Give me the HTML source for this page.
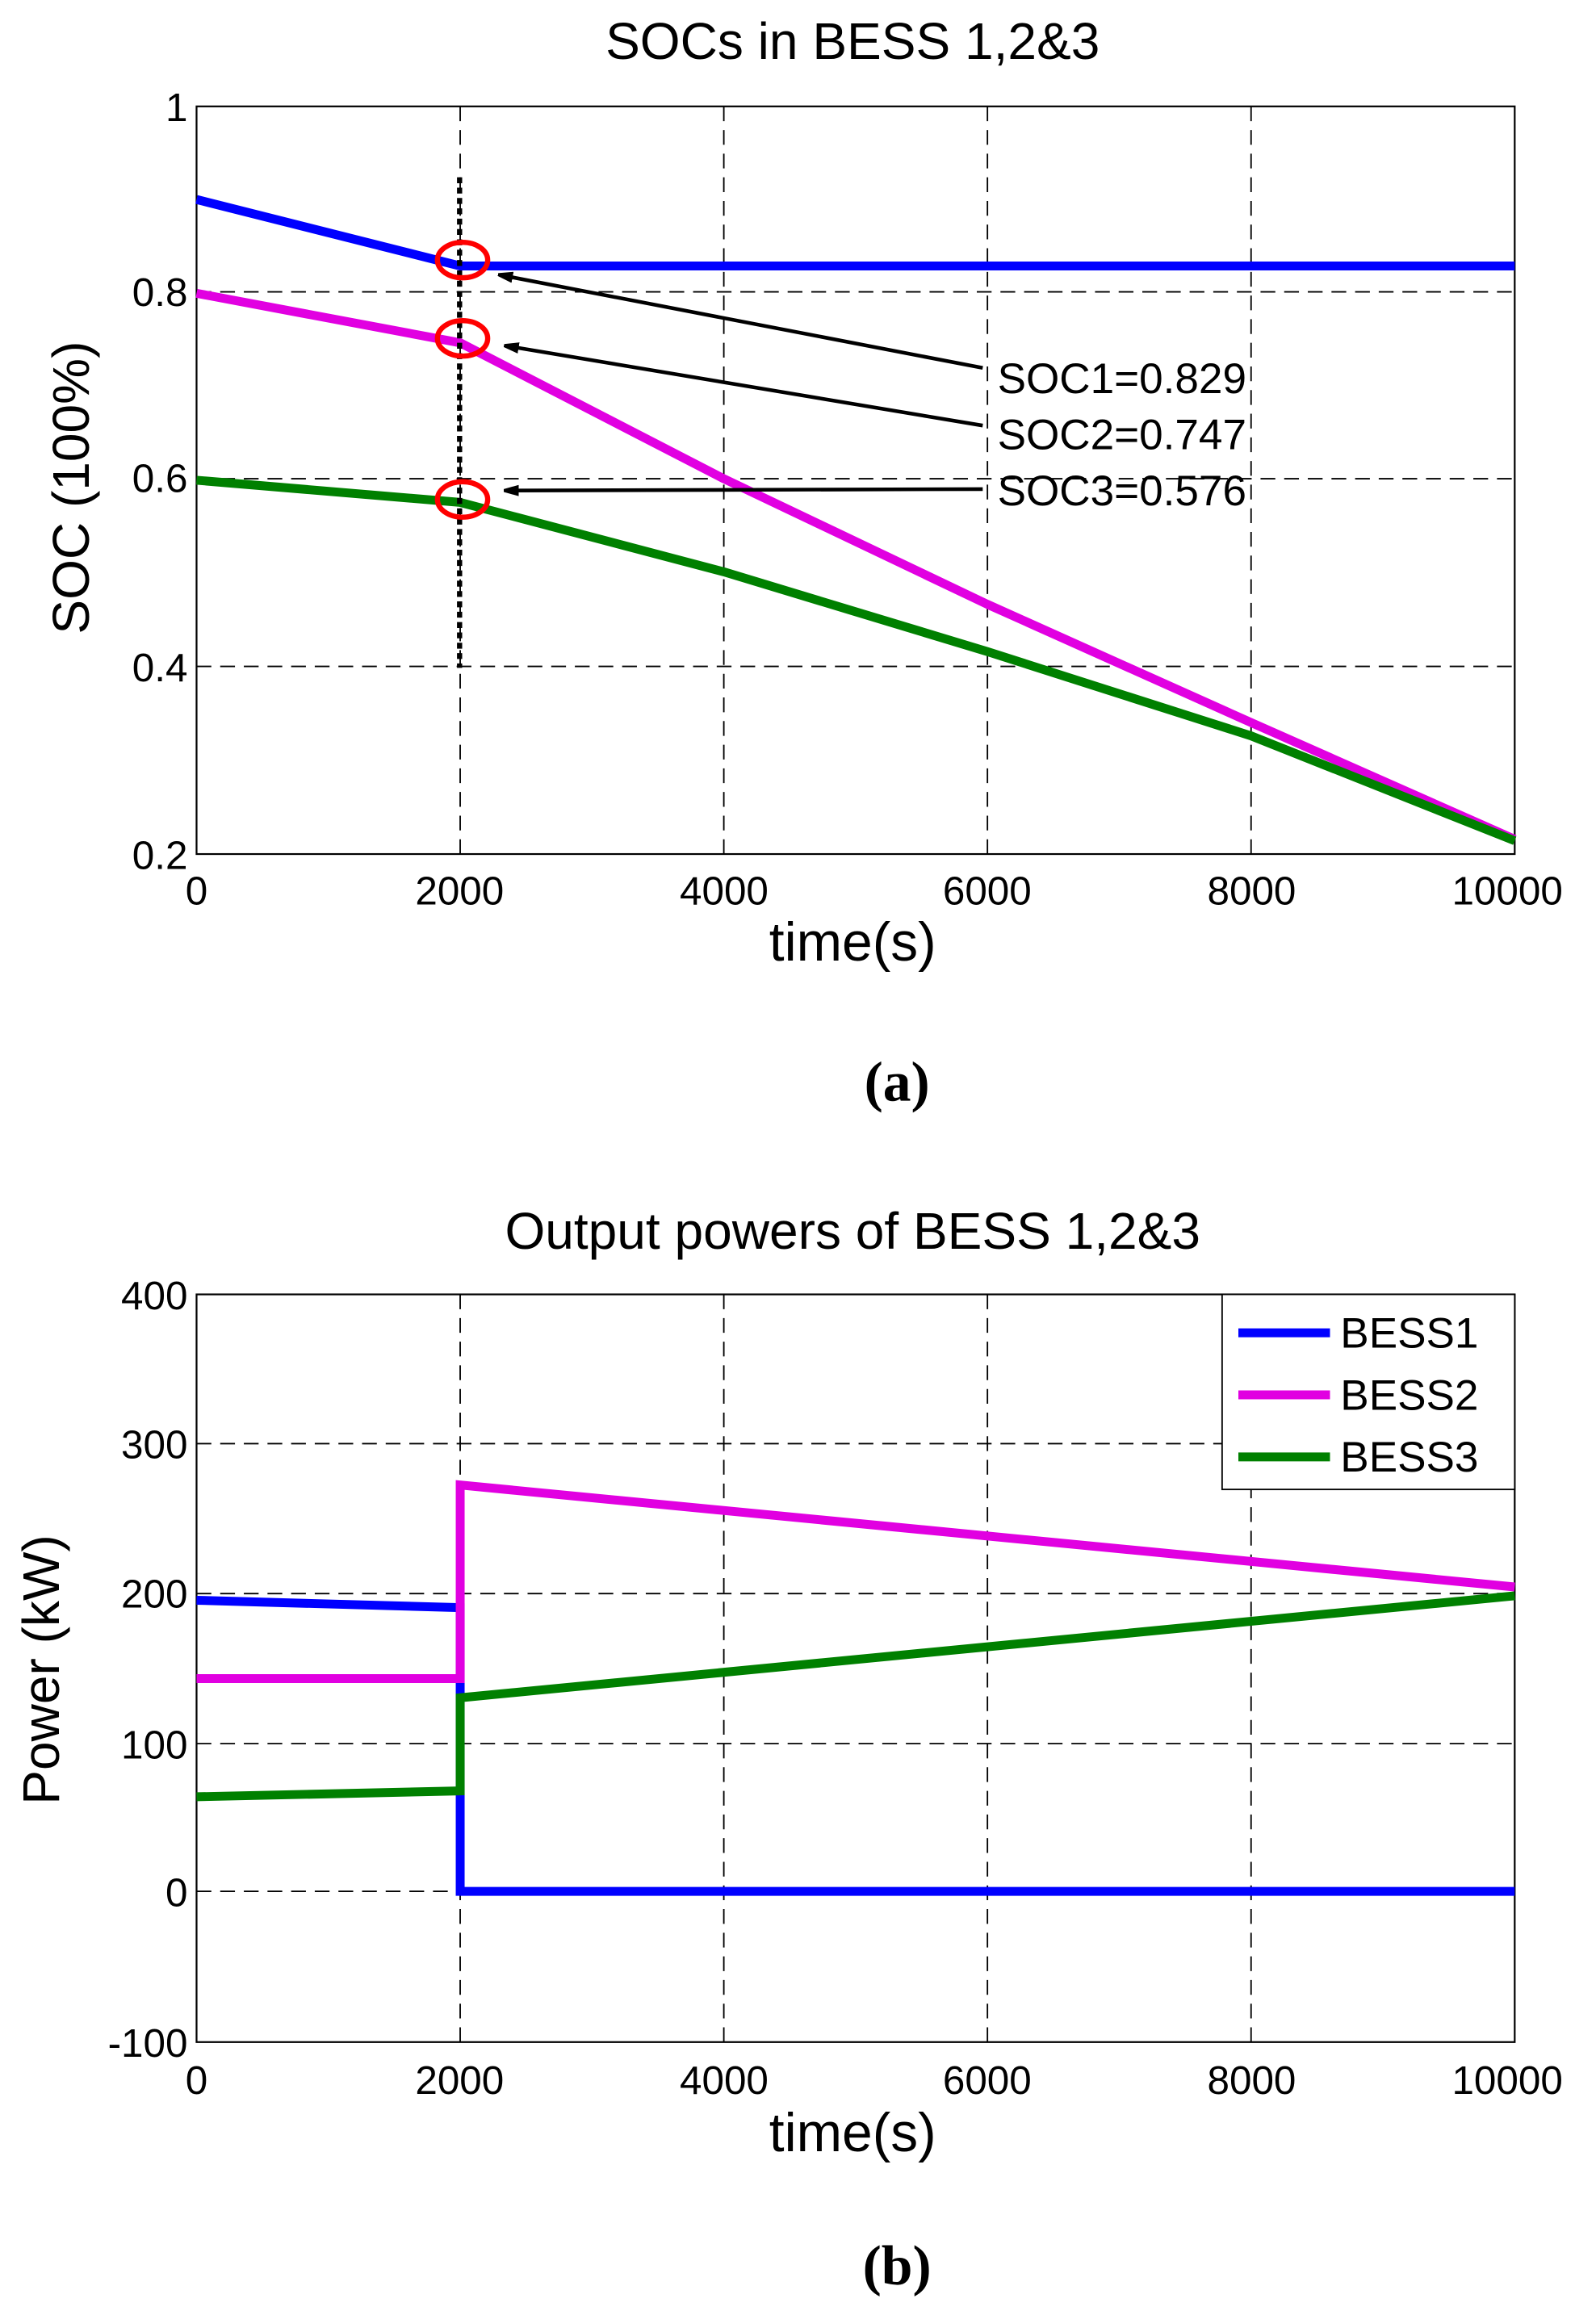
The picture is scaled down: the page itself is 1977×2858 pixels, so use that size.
<!DOCTYPE html>
<html><head><meta charset="utf-8"><style>html,body{margin:0;padding:0;background:#fff}svg{display:block}</style></head>
<body>
<svg width="1977" height="2858" viewBox="0 0 1080 1561.3" xmlns="http://www.w3.org/2000/svg" font-family="Liberation Sans, sans-serif">
<defs><marker id="ah" markerWidth="10" markerHeight="10" refX="9" refY="5" orient="auto" markerUnits="userSpaceOnUse"><path d="M0,0 L18,5 L0,10" fill="none" stroke="#000" stroke-width="2.5" transform="translate(-9,0)"/></marker></defs>
<!-- Plot A -->
<text x="577" y="40" font-size="35" text-anchor="middle">SOCs in BESS 1,2&amp;3</text>
<g stroke="#000" stroke-width="1" stroke-dasharray="10,6" fill="none">
<line x1="311.4" y1="72" x2="311.4" y2="578"/><line x1="489.8" y1="72" x2="489.8" y2="578"/><line x1="668.2" y1="72" x2="668.2" y2="578"/><line x1="846.6" y1="72" x2="846.6" y2="578"/>
<line x1="133" y1="197.5" x2="1025" y2="197.5"/><line x1="133" y1="324" x2="1025" y2="324"/><line x1="133" y1="451" x2="1025" y2="451"/>
</g>
<rect x="133" y="72" width="892" height="506" fill="none" stroke="#000" stroke-width="1.2"/>
<g font-size="27" text-anchor="end"><text x="127" y="82">1</text><text x="127" y="207">0.8</text><text x="127" y="333">0.6</text><text x="127" y="461">0.4</text><text x="127" y="588">0.2</text></g>
<g font-size="27" text-anchor="middle"><text x="133" y="612">0</text><text x="311" y="612">2000</text><text x="490" y="612">4000</text><text x="668" y="612">6000</text><text x="847" y="612">8000</text><text x="1020" y="612">10000</text></g>
<text x="577" y="650" font-size="37" text-anchor="middle">time(s)</text>
<text transform="translate(60,330) rotate(-90)" font-size="35" text-anchor="middle">SOC (100%)</text>
<g fill="none" stroke-width="6" stroke-linejoin="round">
<polyline points="133,135 311.4,180 1025,180" stroke="#0000ff"/>
<polyline points="133,198.5 311.4,232 489.8,324 668.2,409 846.6,489 1025,568" stroke="#e100e1"/>
<polyline points="133,325 311.4,340 489.8,387 668.2,441 846.6,498 1025,569" stroke="#008000"/>
</g>
<line x1="311" y1="120" x2="311" y2="452" stroke="#000" stroke-width="3.5" stroke-dasharray="4,3"/>
<g fill="none" stroke="#ff0000" stroke-width="3.5"><ellipse cx="313" cy="176" rx="17" ry="12"/><ellipse cx="313" cy="229" rx="17" ry="12"/><ellipse cx="313" cy="338" rx="17" ry="12"/></g>
<g stroke="#000" stroke-width="2.5" marker-end="url(#ah)"><line x1="665" y1="249" x2="338" y2="186"/><line x1="665" y1="288" x2="342" y2="234"/><line x1="665" y1="331" x2="342" y2="332"/></g>
<g font-size="29"><text x="675" y="266">SOC1=0.829</text><text x="675" y="304">SOC2=0.747</text><text x="675" y="342">SOC3=0.576</text></g>
<text x="607" y="745" font-family="Liberation Serif, serif" font-weight="bold" font-size="38" text-anchor="middle">(a)</text>
<!-- Plot B -->
<text x="577" y="845" font-size="35" text-anchor="middle">Output powers of BESS 1,2&amp;3</text>
<g stroke="#000" stroke-width="1" stroke-dasharray="10,6" fill="none">
<line x1="311.4" y1="876" x2="311.4" y2="1382"/><line x1="489.8" y1="876" x2="489.8" y2="1382"/><line x1="668.2" y1="876" x2="668.2" y2="1382"/><line x1="846.6" y1="876" x2="846.6" y2="1382"/>
<line x1="133" y1="977" x2="1025" y2="977"/><line x1="133" y1="1078.5" x2="1025" y2="1078.5"/><line x1="133" y1="1180" x2="1025" y2="1180"/><line x1="133" y1="1280" x2="1025" y2="1280"/>
</g>
<rect x="133" y="876" width="892" height="506" fill="none" stroke="#000" stroke-width="1.2"/>
<g font-size="27" text-anchor="end"><text x="127" y="886">400</text><text x="127" y="987">300</text><text x="127" y="1088">200</text><text x="127" y="1190">100</text><text x="127" y="1290">0</text><text x="127" y="1392">-100</text></g>
<g font-size="27" text-anchor="middle"><text x="133" y="1417">0</text><text x="311" y="1417">2000</text><text x="490" y="1417">4000</text><text x="668" y="1417">6000</text><text x="847" y="1417">8000</text><text x="1020" y="1417">10000</text></g>
<text x="577" y="1456" font-size="37" text-anchor="middle">time(s)</text>
<text transform="translate(40,1130) rotate(-90)" font-size="35" text-anchor="middle">Power (kW)</text>
<g fill="none" stroke-width="6" stroke-linejoin="miter">
<polyline points="133,1083 311.4,1088 311.4,1280 1025,1280" stroke="#0000ff"/>
<polyline points="133,1136 311.4,1136 311.4,1005 1025,1074" stroke="#e100e1"/>
<polyline points="133,1216 311.4,1212 311.4,1149 1025,1080" stroke="#008000"/>
</g>
<rect x="827" y="876" width="198" height="132" fill="#fff" stroke="#000" stroke-width="1"/>
<g stroke-width="6"><line x1="838" y1="902" x2="900" y2="902" stroke="#0000ff"/><line x1="838" y1="944" x2="900" y2="944" stroke="#e100e1"/><line x1="838" y1="986" x2="900" y2="986" stroke="#008000"/></g>
<g font-size="29"><text x="907" y="912">BESS1</text><text x="907" y="954">BESS2</text><text x="907" y="996">BESS3</text></g>
<text x="607" y="1546" font-family="Liberation Serif, serif" font-weight="bold" font-size="38" text-anchor="middle">(b)</text>
</svg>
</body></html>
